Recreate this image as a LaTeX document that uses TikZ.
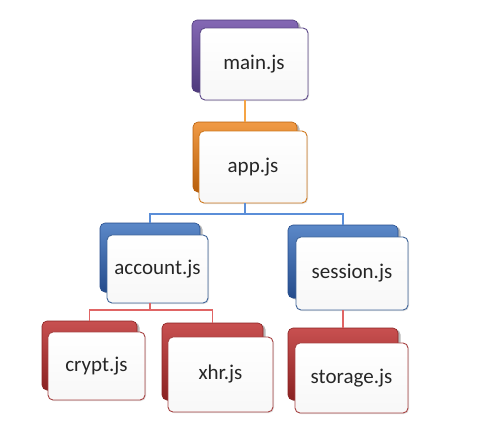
\documentclass[tikz,border=0pt]{standalone}
\usepackage{fontspec}
\setmainfont{Carlito}
\usetikzlibrary{shadows}
\definecolor{puL}{HTML}{8468B4}
\definecolor{puD}{HTML}{4E3A7C}
\definecolor{puB}{HTML}{5E4A8A}
\definecolor{orL}{HTML}{F09A45}
\definecolor{orD}{HTML}{B85F0C}
\definecolor{orB}{HTML}{D07A20}
\definecolor{orC}{HTML}{F5A445}
\definecolor{blL}{HTML}{5B88C8}
\definecolor{blD}{HTML}{254C8C}
\definecolor{blB}{HTML}{41669A}
\definecolor{blC}{HTML}{5B8ED8}
\definecolor{reL}{HTML}{C85050}
\definecolor{reD}{HTML}{8A2222}
\definecolor{reB}{HTML}{A84444}
\definecolor{reC}{HTML}{E06565}
\tikzset{
  backcard/.style 2 args={rectangle, rounded corners=5pt, top color=#1, bottom color=#2,
    draw=#2, line width=0.6pt, inner sep=0pt,
    drop shadow={shadow xshift=2.5pt, shadow yshift=-1.5pt, opacity=0.55}},
  frontcard/.style={rectangle, rounded corners=5pt, top color=white, bottom color=black!3,
    draw=#1, line width=0.9pt, inner sep=0pt,
    font=\fontsize{21}{25}\selectfont, text=black!85,
    drop shadow={shadow xshift=1pt, shadow yshift=-1pt, opacity=0.25}},
  conn/.style={draw=#1, line width=1.4pt},
}
\begin{document}
\begin{tikzpicture}[x=1pt,y=-1pt]
\useasboundingbox[fill=white] (0,0) rectangle (477,426);
% main
\node[backcard={puL}{puD}, minimum width=106pt, minimum height=72pt] (mainB) at (245,56) {};
\node[frontcard=puB, minimum width=108pt, minimum height=72pt] (main) at (254,64) {main.js};
% app
\node[backcard={orL}{orD}, minimum width=104pt, minimum height=70pt] (appB) at (245,157) {};
\node[frontcard=orB, minimum width=108pt, minimum height=72pt] (app) at (253,167) {app.js};
% account
\node[backcard={blL}{blD}, minimum width=100pt, minimum height=69pt] (accountB) at (150,257.5) {};
\node[frontcard=blB, minimum width=101pt, minimum height=68pt] (account) at (157.5,269) {account.js};
% session
\node[backcard={blL}{blD}, minimum width=110pt, minimum height=73pt] (sessionB) at (343,261.5) {};
\node[frontcard=blB, minimum width=112pt, minimum height=73pt] (session) at (352,273.5) {session.js};
% crypt
\node[backcard={reL}{reD}, minimum width=95pt, minimum height=69pt] (cryptB) at (89.5,355.5) {};
\node[frontcard=reB, minimum width=97pt, minimum height=68pt] (crypt) at (96.5,366) {crypt.js};
% xhr
\node[backcard={reL}{reD}, minimum width=101pt, minimum height=77pt] (xhrB) at (212.5,361.5) {};
\node[frontcard=reB, minimum width=105pt, minimum height=75pt] (xhr) at (220.5,374.5) {xhr.js};
% storage
\node[backcard={reL}{reD}, minimum width=110pt, minimum height=72pt] (storageB) at (343,364) {};
\node[frontcard=reB, minimum width=113pt, minimum height=70pt] (storage) at (351.5,378) {storage.js};
% connectors
\coordinate (j1) at (245,214);
\coordinate (j2) at (151,310);
\draw[conn=orC] (mainB.south |- main.south) -- (appB.north);
\draw[conn=blC] (appB.south |- app.south) -- (j1);
\draw[conn=blC] (accountB.north) |- (j1) -| (sessionB.north);
\draw[conn=reC] (accountB.south |- account.south) -- (accountB.south |- j2);
\draw[conn=reC] (cryptB.north) |- (j2) -| (xhrB.north);
\draw[conn=reC] (sessionB.south |- session.south) -- (storageB.north);
\end{tikzpicture}
\end{document}
